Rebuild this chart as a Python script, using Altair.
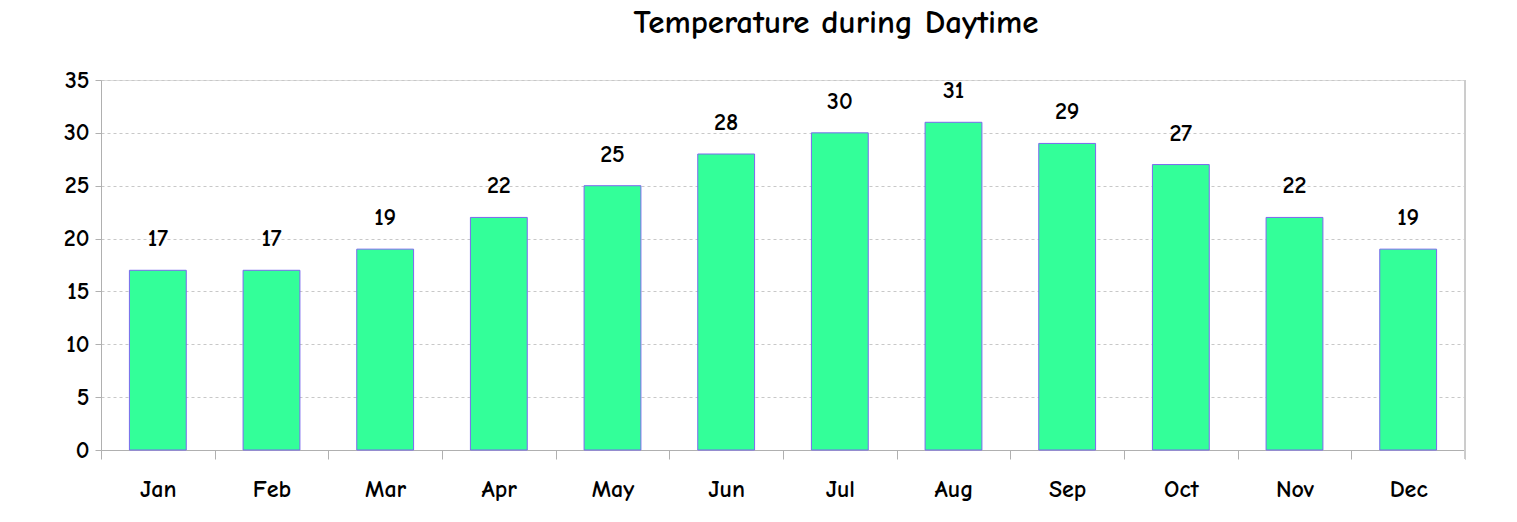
import altair as alt
import pandas as pd

months = ["Jan", "Feb", "Mar", "Apr", "May", "Jun", "Jul", "Aug", "Sep", "Oct", "Nov", "Dec"]
temps = [17, 17, 19, 22, 25, 28, 30, 31, 29, 27, 22, 19]

df = pd.DataFrame({"month": months, "temp": temps})

FONT = "Comic Sans MS, Comic Neue, Lato"
W, H = 1364, 370

x = alt.X("month:N", sort=months, title=None,
          scale=alt.Scale(paddingInner=0, paddingOuter=0),
          axis=alt.Axis(labelAngle=0, labelFontSize=24, labelFontWeight="bold",
                        labelFont=FONT, labelColor="black", labelPadding=18,
                        tickBand="extent", tickSize=9, tickColor="#b0b0b0",
                        domainColor="#b0b0b0", grid=False))
y = alt.Y("temp:Q", title=None,
          scale=alt.Scale(domain=[0, 35], nice=False),
          axis=alt.Axis(values=list(range(0, 36, 5)), labelFontSize=24,
                        labelFontWeight="bold", labelFont=FONT, labelColor="black",
                        labelPadding=6, tickSize=6, tickColor="#b0b0b0",
                        domainColor="#b0b0b0", gridDash=[3, 3], gridColor="#c8c8c8"))

bars = alt.Chart(df).mark_bar(color="#33FF99", stroke="#7B68EE", strokeWidth=1,
                              width=alt.RelativeBandSize(0.5)).encode(x=x, y=y)
labels = alt.Chart(df).mark_text(dy=-19, fontSize=24, fontWeight="bold", font=FONT,
                                 color="black", baseline="bottom").encode(
    x=alt.X("month:N", sort=months), y="temp:Q", text="temp:Q")
edge = alt.Chart(df).mark_rule(color="#cccccc", strokeWidth=1).encode(
    x=alt.value(W), y=alt.value(0), y2=alt.value(H + 9))

chart = alt.layer(bars, labels, edge).properties(
    width=W, height=H,
    title=alt.TitleParams("Temperature during Daytime", fontSize=33, font=FONT,
                          fontWeight="bold", color="black", anchor="middle",
                          dx=53, offset=28),
    padding={"left": 101, "top": 80, "right": 52, "bottom": 72},
    autosize=alt.AutoSizeParams(type="none"),
).configure_view(stroke=None).configure(background="white")

chart.save("out.html", embed_options={"renderer": "svg", "actions": False})
